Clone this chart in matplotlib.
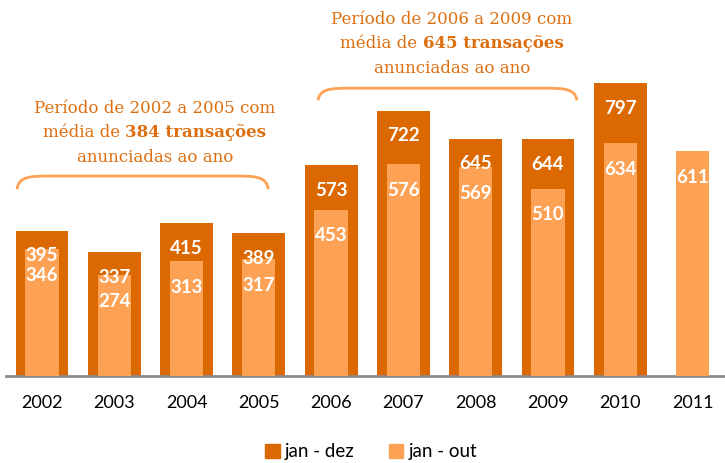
import matplotlib.pyplot as plt
from matplotlib.offsetbox import TextArea, HPacker, VPacker, AnnotationBbox
from matplotlib.patches import PathPatch, Patch
from matplotlib.path import Path

years = ['2002', '2003', '2004', '2005', '2006', '2007', '2008', '2009', '2010', '2011']
jan_dez = [395, 337, 415, 389, 573, 722, 645, 644, 797, None]
jan_out = [346, 274, 313, 317, 453, 576, 569, 510, 634, 611]

dark = '#DB6800'
light = '#FDA254'
text_orange = '#DE6F10'

fig = plt.figure(figsize=(7.25, 4.63), dpi=100)
ax = fig.add_axes([5.9 / 725, 1 - 376 / 463, (725 - 5.9) / 725, 376 / 463])
ax.set_xlim(-0.5, 9.45)
ax.set_ylim(0, 1023)

x = list(range(len(years)))
xd = [i for i, v in zip(x, jan_dez) if v is not None]
vd = [v for v in jan_dez if v is not None]
ax.bar(xd, vd, width=0.73, color=dark, zorder=2)
ax.bar(x, jan_out, width=0.46, color=light, zorder=3)

lab = dict(ha='center', va='center', color='white', fontweight='bold',
           fontsize=13.5, family='Lato', textcoords='offset points', zorder=5)
for i, v in zip(xd, vd):
    ax.annotate(str(v), (i, v), xytext=(0, -18), **lab)
for i, v in zip(x, jan_out):
    ax.annotate(str(v), (i, v), xytext=(0, -19), **lab)

for s in ['top', 'left', 'right']:
    ax.spines[s].set_visible(False)
ax.spines['bottom'].set_color('#8C8C8C')
ax.spines['bottom'].set_linewidth(2)
ax.set_yticks([])
ax.set_xticks(x)
ax.set_xticklabels(years, family='Lato', fontsize=13)
ax.tick_params(axis='x', length=0, pad=14)


def brace(x0, x1, ytop, yend):
    verts = [(x0, yend), (x0 + 0.02, ytop), (x0 + 0.2, ytop), (x0 + 0.45, ytop),
             (x1 - 0.45, ytop),
             (x1 - 0.2, ytop), (x1 - 0.02, ytop), (x1, yend)]
    codes = [Path.MOVETO, Path.CURVE4, Path.CURVE4, Path.CURVE4,
             Path.LINETO, Path.CURVE4, Path.CURVE4, Path.CURVE4]
    ax.add_patch(PathPatch(Path(verts, codes), fill=False, edgecolor=light,
                           lw=2, clip_on=False, zorder=4))


brace(-0.346, 3.13, 544, 508)
brace(3.82, 7.40, 783, 750)


def note(cx, cy, l1, num, l3):
    p = dict(color=text_orange, fontsize=12, family='DejaVu Serif')
    b = dict(p, fontweight='bold')
    line1 = TextArea(l1, textprops=p)
    line2 = HPacker(children=[TextArea('média de ', textprops=p),
                              TextArea(num + ' transações', textprops=b)],
                    sep=0, pad=0, align='baseline')
    line3 = TextArea(l3, textprops=p)
    box = VPacker(children=[line1, line2, line3], sep=5.5, pad=0, align='center')
    ab = AnnotationBbox(box, (cx, cy), xycoords='data', frameon=False,
                        box_alignment=(0.5, 0.5), annotation_clip=False)
    ax.add_artist(ab)


note(1.56, 662, 'Período de 2002 a 2005 com', '384', 'anunciadas ao ano')
note(5.67, 904, 'Período de 2006 a 2009 com', '645', 'anunciadas ao ano')

handles = [Patch(color=dark, label='jan - dez'), Patch(color=light, label='jan - out')]
leg = fig.legend(handles=handles, loc='center', bbox_to_anchor=(0.512, 1 - 452 / 463),
                 ncol=2, frameon=False, handlelength=0.75, handleheight=0.75,
                 handletextpad=0.3, columnspacing=1.8, prop={'family': 'Lato', 'size': 13.5})

fig.savefig('out.png', dpi=100)
